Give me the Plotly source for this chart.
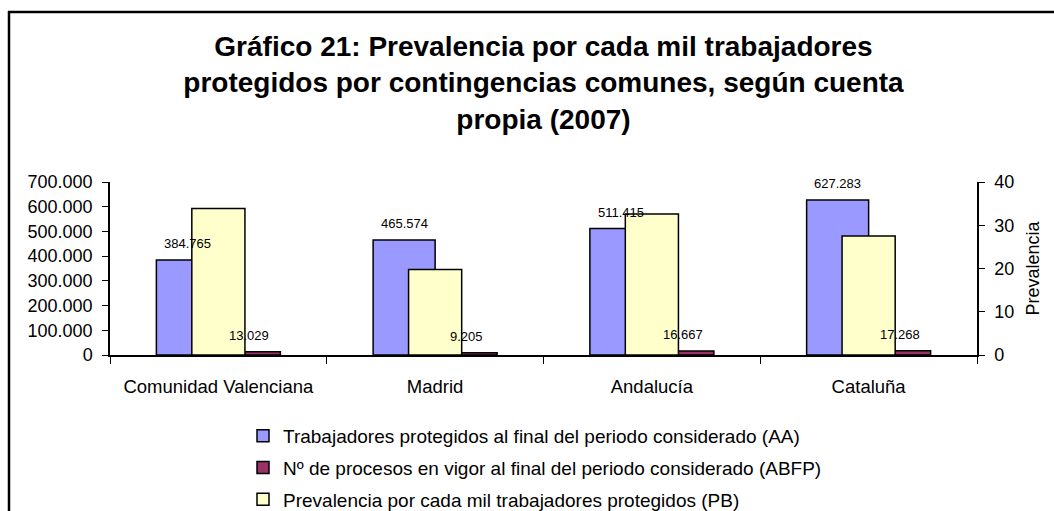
import plotly.graph_objects as go

categories = ["Comunidad Valenciana", "Madrid", "Andalucía", "Cataluña"]
trabajadores = [384765, 465574, 511415, 627283]
procesos = [13029, 9205, 16667, 17268]
prevalencia = [33.86, 19.77, 32.59, 27.53]

names = [
    "Trabajadores protegidos al final del periodo considerado (AA)",
    "Nº de procesos en vigor al final del periodo considerado (ABFP)",
    "Prevalencia por cada mil trabajadores protegidos (PB)",
]
colors = ["#9999FF", "#993366", "#FFFFCC"]

W, H = 1054, 511
L, R, T, B = 110, 77, 182, 156
PW, PH = W - L - R, H - T - B

FONT = "Arial, Liberation Sans, sans-serif"


def fmt(v):
    return f"{v:,}".replace(",", ".")


bw = 0.286
yw = 0.245

fig = go.Figure()
fig.add_trace(go.Bar(x=categories, y=trabajadores, name=names[0], legendgroup="a",
                     marker=dict(color=colors[0], line=dict(color="black", width=1.5)),
                     width=bw, offset=-bw, yaxis="y"))
fig.add_trace(go.Bar(x=categories, y=procesos, name=names[1], legendgroup="b",
                     marker=dict(color=colors[1], line=dict(color="black", width=1.5)),
                     width=bw, offset=0, yaxis="y"))
fig.add_trace(go.Bar(x=categories, y=prevalencia, name=names[2], legendgroup="c",
                     marker=dict(color=colors[2], line=dict(color="black", width=1.5)),
                     width=yw, offset=-yw / 2, yaxis="y2"))

annotations = []
for i, v in enumerate(trabajadores):
    annotations.append(dict(x=i - bw / 2, y=v, xref="x", yref="y", text=fmt(v),
                            showarrow=False, yanchor="bottom", yshift=7,
                            font=dict(family=FONT, size=13, color="black")))
for i, v in enumerate(procesos):
    annotations.append(dict(x=i + bw / 2, y=v, xref="x", yref="y", text=fmt(v),
                            showarrow=False, yanchor="bottom", yshift=7,
                            font=dict(family=FONT, size=13, color="black")))


def px_x(p):
    return (p - L) / PW


def px_y(p):
    return (H - B - p) / PH


shapes = [
    dict(type="line", xref="paper", yref="paper", x0=px_x(8), x1=px_x(1070),
         y0=px_y(12), y1=px_y(12), line=dict(color="black", width=2.5)),
    dict(type="line", xref="paper", yref="paper", x0=px_x(9), x1=px_x(9),
         y0=px_y(11), y1=px_y(530), line=dict(color="black", width=2.5)),
]

fig.update_layout(
    width=W, height=H,
    margin=dict(l=L, r=R, t=T, b=B, autoexpand=False),
    paper_bgcolor="white", plot_bgcolor="white",
    separators=",.",
    barmode="overlay",
    font=dict(family=FONT, size=18, color="black"),
    title=dict(text="Gráfico 21: Prevalencia por cada mil trabajadores<br>protegidos por contingencias comunes, según cuenta<br>propia (2007)",
               x=0.5, xref="paper", xanchor="center", y=1 - 56 / H, yanchor="middle",
               font=dict(family=FONT, size=28, color="black", weight="bold")),
    xaxis=dict(type="category", showline=True, linecolor="black", linewidth=1.5,
               ticks="outside", ticklen=7, tickcolor="black", tickson="boundaries",
               showgrid=False, tickfont=dict(size=18.5), ticklabelstandoff=14),
    yaxis=dict(range=[0, 700000], dtick=100000, tickformat=",d", showline=True,
               linecolor="black", linewidth=1.5, ticks="outside", ticklen=6,
               tickcolor="black", showgrid=False, zeroline=False, tickfont=dict(size=18),
               ticklabelstandoff=6),
    yaxis2=dict(range=[0, 40], dtick=10, overlaying="y", side="right", showline=True,
                linecolor="black", linewidth=1.5, ticks="outside", ticklen=6,
                tickcolor="black", showgrid=False, zeroline=False, tickfont=dict(size=18),
                title=dict(text="Prevalencia", font=dict(size=18), standoff=13),
                ticklabelstandoff=6),
    yaxis3=dict(range=[0, 40], dtick=10, overlaying="y", side="right", showline=False,
                ticks="inside", ticklen=6, tickcolor="black", tickwidth=1.5,
                showticklabels=False, showgrid=False, zeroline=False),
    legend=dict(x=px_x(243), y=px_y(417), xanchor="left", yanchor="top",
                orientation="v", traceorder="grouped", tracegroupgap=4,
                font=dict(family=FONT, size=19), bgcolor="rgba(0,0,0,0)"),
    annotations=annotations,
    shapes=shapes,
)

fig.write_html("out.html", config={"displayModeBar": False},
               post_script="document.body.style.margin='0';")
